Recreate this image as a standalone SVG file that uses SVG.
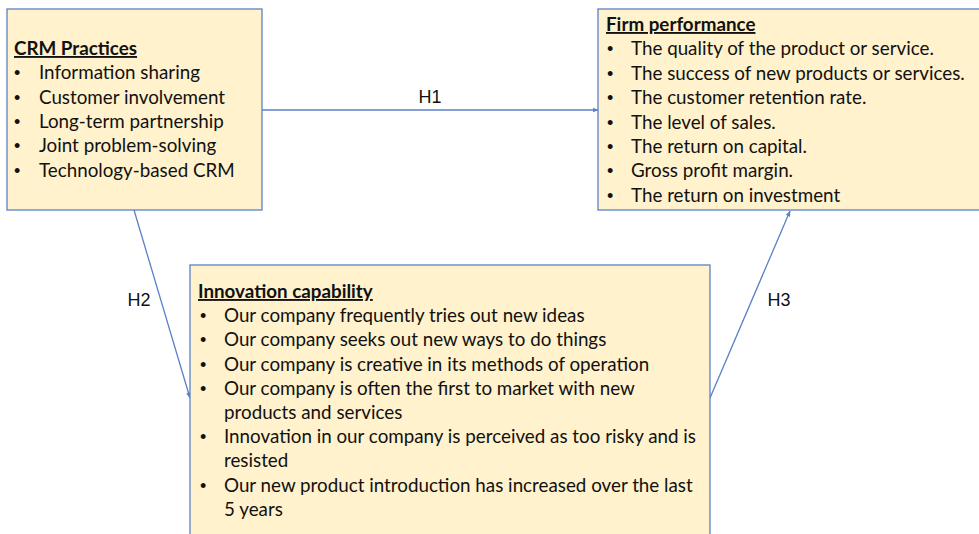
<svg xmlns="http://www.w3.org/2000/svg" width="979" height="534" viewBox="0 0 979 534">
<defs>
<style>
.box{fill:#fff2cc;stroke:#5b80c8;stroke-width:1.3}
.t{font-family:Lato,"Open Sans",sans-serif;font-size:18.8px;fill:#111}
.h{font-weight:bold;text-decoration:underline}
.b{font-family:"Liberation Sans",Arial,sans-serif;font-size:18px;fill:#111}
.c{stroke:#5b80c8;stroke-width:1.3;fill:none;marker-end:url(#ah)}
.lab{font-family:"Liberation Sans",Arial,sans-serif;font-size:18px;fill:#111}
</style>
<marker id="ah" viewBox="0 0 10 10" refX="9" refY="5" markerWidth="6" markerHeight="6" orient="auto" markerUnits="userSpaceOnUse">
<path d="M0,1 L10,5 L0,9 z" fill="#5b80c8"/>
</marker>
</defs>
<g id="connectors">
<line class="c" x1="262" y1="110" x2="598" y2="110"/>
<line class="c" x1="134" y1="210" x2="190" y2="398"/>
<line class="c" x1="710" y1="398" x2="790" y2="211"/>
<text class="lab" x="430" y="103" text-anchor="middle">H1</text>
<text class="lab" x="139" y="306" text-anchor="middle">H2</text>
<text class="lab" x="779" y="306" text-anchor="middle">H3</text>
</g>
<g id="crm">
<rect class="box" x="7" y="9" width="255" height="201"/>
<text class="t h" x="14" y="55">CRM Practices</text>
<g class="b">
<text x="14" y="79">•</text><text x="14" y="104">•</text><text x="14" y="128">•</text><text x="14" y="152">•</text><text x="14" y="177">•</text>
</g>
<g class="t">
<text x="39" y="79">Information sharing</text>
<text x="39" y="104">Customer involvement</text>
<text x="39" y="128">Long-term partnership</text>
<text x="39" y="152">Joint problem-solving</text>
<text x="39" y="177">Technology-based CRM</text>
</g>
</g>
<g id="firm">
<rect class="box" x="598" y="9" width="390" height="201"/>
<text class="t h" x="606" y="31">Firm performance</text>
<g class="b">
<text x="607" y="55">•</text><text x="607" y="80">•</text><text x="607" y="104">•</text><text x="607" y="129">•</text><text x="607" y="153">•</text><text x="607" y="177">•</text><text x="607" y="202">•</text>
</g>
<g class="t">
<text x="631" y="55">The quality of the product or service.</text>
<text x="631" y="80">The success of new products or services.</text>
<text x="631" y="104">The customer retention rate.</text>
<text x="631" y="129">The level of sales.</text>
<text x="631" y="153">The return on capital.</text>
<text x="631" y="177">Gross profit margin.</text>
<text x="631" y="202">The return on investment</text>
</g>
</g>
<g id="innovation">
<rect class="box" x="190" y="265" width="520" height="280"/>
<text class="t h" x="198" y="298">Innovation capability</text>
<g class="b">
<text x="200" y="322">•</text><text x="200" y="346">•</text><text x="200" y="371">•</text><text x="200" y="395">•</text><text x="200" y="443">•</text><text x="200" y="492">•</text>
</g>
<g class="t">
<text x="224" y="322">Our company frequently tries out new ideas</text>
<text x="224" y="346">Our company seeks out new ways to do things</text>
<text x="224" y="371">Our company is creative in its methods of operation</text>
<text x="224" y="395">Our company is often the first to market with new</text>
<text x="224" y="419">products and services</text>
<text x="224" y="443">Innovation in our company is perceived as too risky and is</text>
<text x="224" y="467">resisted</text>
<text x="224" y="492">Our new product introduction has increased over the last</text>
<text x="224" y="516">5 years</text>
</g>
</g>
</svg>
